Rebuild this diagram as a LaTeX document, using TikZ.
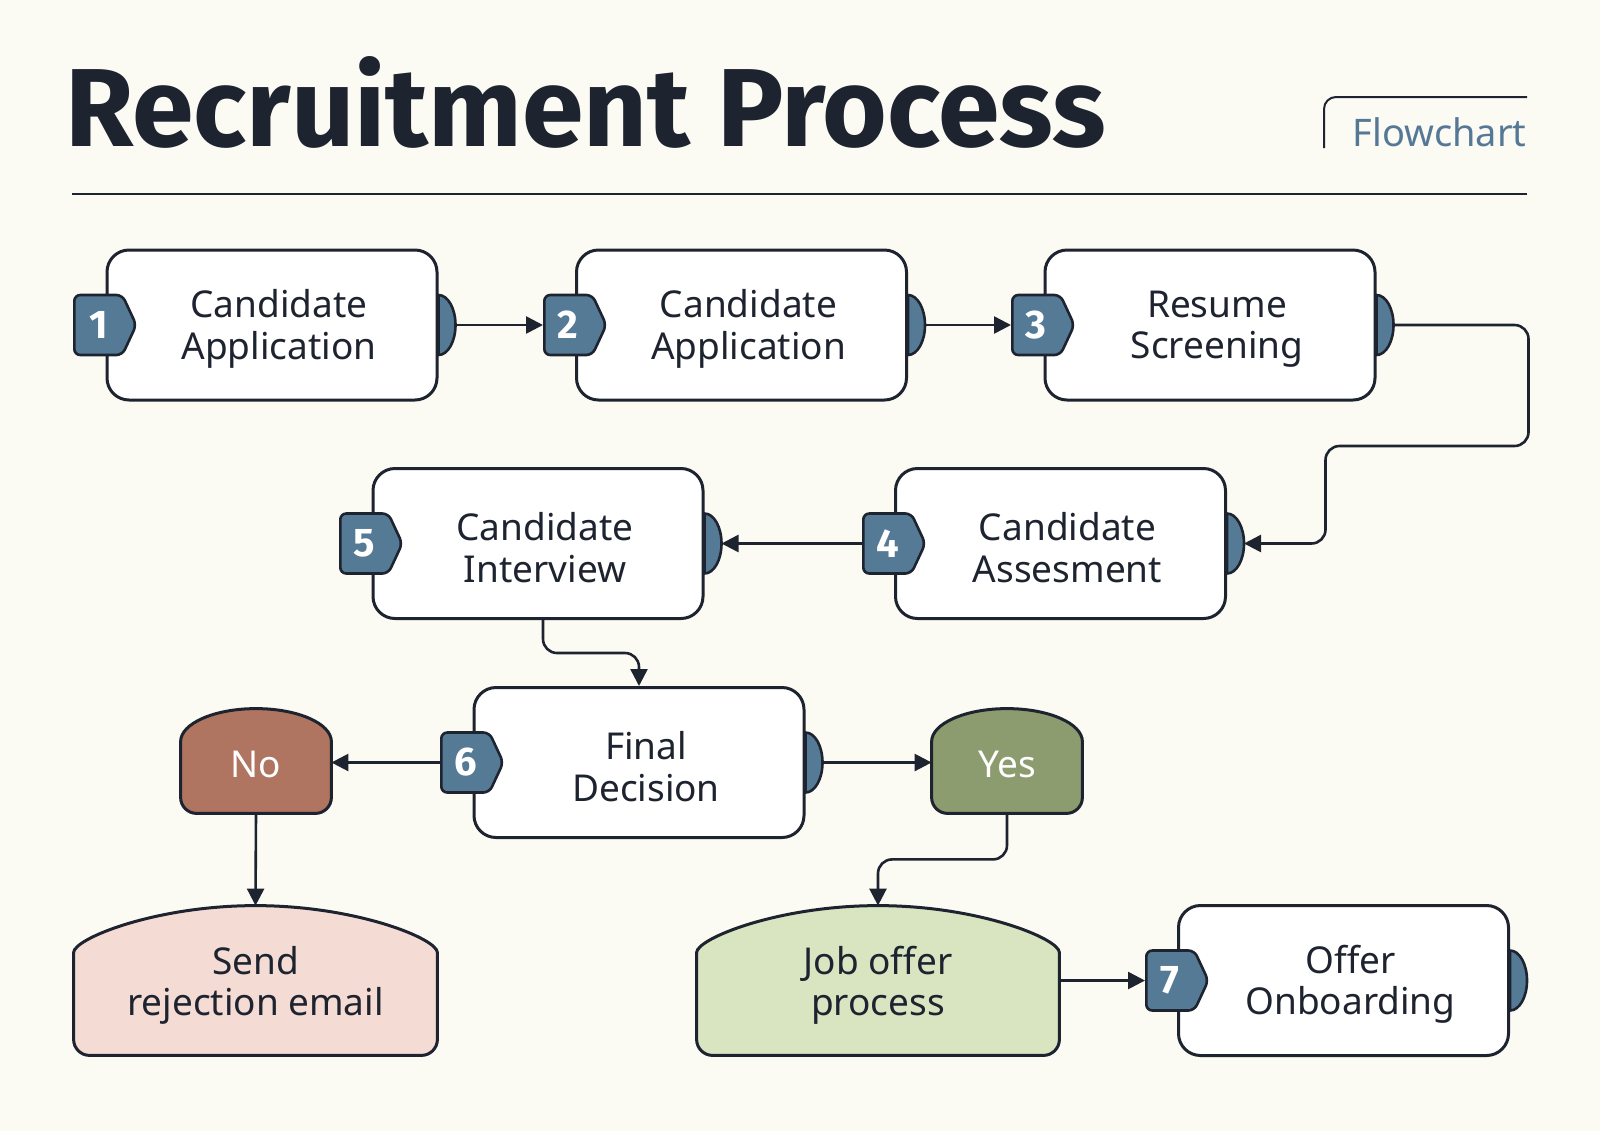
\documentclass[tikz,border=0pt]{standalone}
\usepackage{fontspec}
\setmainfont{Noto Sans}
\newfontfamily\heavyfont{Fira Sans}
\usetikzlibrary{arrows.meta,calc,shapes.symbols}
\definecolor{bgc}{HTML}{FCFBF3}
\definecolor{ink}{HTML}{1E2330}
\definecolor{stepc}{HTML}{557A96}
\definecolor{noc}{HTML}{B07560}
\definecolor{yesc}{HTML}{8D9C6E}
\definecolor{sendc}{HTML}{F4DCD5}
\definecolor{jobc}{HTML}{D9E5C1}
\definecolor{tagc}{HTML}{557896}
\pgfdeclarelayer{bglayer}
\pgfdeclarelayer{connlayer}
\pgfsetlayers{bglayer,connlayer,main}
\newcommand\mydome[6]{%
  \draw[#6] let \p1=(#1.north west), \p2=(#1.south east), \p3=(#1.north) in
  (\x1,\y1-#2) .. controls (\x1,\y1-#2+#3) and (\x3-#4,\y1) .. (\x3,\y1)
  .. controls (\x3+#4,\y1) and (\x2,\y1-#2+#3) .. (\x2,\y1-#2)
  -- (\x2,\y2+#5) arc[start angle=0,end angle=-90,radius=#5]
  -- (\x1+#5,\y2) arc[start angle=-90,end angle=-180,radius=#5] -- cycle;}
\begin{document}
\begin{tikzpicture}[x=0.5pt,y=-0.5pt,
  bodyfont/.style={font=\fontsize{18.5}{20.75}\selectfont},
  stepbox/.style={draw=ink, fill=white, line width=1.5pt, rounded corners=11pt,
    minimum width=165pt, minimum height=75pt, inner sep=0pt},
  boxtext/.style={inner sep=0pt, align=center, text=ink, bodyfont},
  badge/.style={shape=signal, signal to=east, signal pointer angle=130,
    fill=stepc, draw=ink, line width=1.3pt, rounded corners=3pt,
    minimum width=31pt, minimum height=30pt, inner sep=0pt, text=white,
    font=\heavyfont\fontsize{20}{22}\selectfont\bfseries, anchor=west},
  tabst/.style={fill=stepc, draw=ink, line width=1.3pt},
  domebox/.style={inner sep=0pt},
  domeline/.style={draw=ink, line width=1.5pt},
  conn/.style={draw=ink, line width=1.3pt, -{Triangle[length=8.5pt,width=8.5pt]}},
  ]
\useasboundingbox (0,0) rectangle (1600,1131);
\begin{pgfonlayer}{bglayer}
  \fill[bgc] (0,0) rectangle (1600,1131);
\end{pgfonlayer}

% title
\node[anchor=base west, inner sep=0pt, text=ink,
  font=\heavyfont\fontsize{55.5}{62}\selectfont\bfseries] (title) at (65,146) {Recruitment Process};
\draw[ink, line width=1.2pt] (72,194) -- (1527,194);
\draw[ink, line width=1pt, rounded corners=6pt] (1324,148) -- (1324,97) -- (1527,97);
\node[anchor=base east, inner sep=0pt, text=tagc,
  font=\fontsize{19}{22}\selectfont] (tag) at (1527,146) {Flowchart};

% boxes
\node[stepbox] (box1) at (272,325) {};
\node[stepbox] (box2) at (741.5,325) {};
\node[stepbox] (box3) at (1210,325) {};
\node[stepbox] (box5) at (538,543.5) {};
\node[stepbox] (box4) at (1060.5,543.5) {};
\node[stepbox] (box6) at (639,762.5) {};
\node[stepbox] (box7) at (1343.5,980.5) {};
\node[boxtext] (t1) at ([shift={(7,4)}]box1.center) {Candidate\\Application};
\node[boxtext] (t2) at ([shift={(7,4)}]box2.center) {Candidate\\Application};
\node[boxtext] (t3) at ([shift={(7,4)}]box3.center) {Resume\\Screening};
\node[boxtext] (t5) at ([shift={(7,4)}]box5.center) {Candidate\\Interview};
\node[boxtext] (t4) at ([shift={(7,4)}]box4.center) {Candidate\\Assesment};
\node[boxtext] (t6) at ([shift={(7,4)}]box6.center) {Final\\Decision};
\node[boxtext] (t7) at ([shift={(7,4)}]box7.center) {Offer\\Onboarding};

% tabs
\foreach \b in {box1,box2,box3,box4,box5,box6,box7}{
  \draw[tabst] (\b.east) ++(0,-30) arc[start angle=90,end angle=-90,x radius=8.5pt,y radius=15pt] -- cycle;
}

% badges
\node[badge] (n1) at (73,325) {1};
\node[badge] (n2) at (543,325) {2};
\node[badge] (n3) at (1011,325) {3};
\node[badge] (n4) at (862,543.5) {4};
\node[badge] (n5) at (339,543.5) {5};
\node[badge] (n6) at (440,762.5) {6};
\node[badge] (n7) at (1145,980.5) {7};

% dome nodes
\node[domebox, minimum width=75pt, minimum height=52pt] (no) at (256,761) {};
\node[domebox, minimum width=75pt, minimum height=52pt] (yes) at (1007,761) {};
\node[domebox, minimum width=181.5pt, minimum height=74.5pt] (send) at (255.5,980.5) {};
\node[domebox, minimum width=181pt, minimum height=74.5pt] (job) at (878,980.5) {};
\node[boxtext, text=white] (tno) at ([shift={(0,3)}]no.center) {No};
\node[boxtext, text=white] (tyes) at ([shift={(0,3)}]yes.center) {Yes};
\node[boxtext] (tsend) at ([shift={(0,5)}]send.center) {Send\\rejection email};
\node[boxtext] (tjob) at ([shift={(0,5)}]job.center) {Job offer\\process};

\begin{pgfonlayer}{connlayer}
  \draw[conn] (box1.east) -- (n2.west);
  \draw[conn] (box2.east) -- (n3.west);
  \draw[conn, rounded corners=7pt] (box3.east) -- ++(152,0) -- ++(0,121) -- ++(-203,0) |- ([xshift=8.5pt]box4.east);
  \draw[conn] (n4.west) -- ([xshift=8.5pt]box5.east);
  \draw[conn, rounded corners=7pt] ([xshift=2.5pt]box5.south) -- ++(0,33) -| (box6.north);
  \draw[conn] (n6.west) -- (n6.west -| no.east);
  \draw[conn] (box6.east) -- (box6.east -| yes.west);
  \draw[conn] (no.south) -- (send.north);
  \draw[conn, rounded corners=7pt] (yes.south) -- ++(0,46) -| (job.north);
  \draw[conn] (job.east |- n7.west) -- (n7.west);
  \mydome{no}{16.5pt}{9pt}{21pt}{8pt}{domeline, fill=noc}
  \mydome{yes}{16.5pt}{9pt}{21pt}{8pt}{domeline, fill=yesc}
  \mydome{send}{23.5pt}{7pt}{50pt}{8pt}{domeline, fill=sendc}
  \mydome{job}{23.5pt}{7pt}{50pt}{8pt}{domeline, fill=jobc}
\end{pgfonlayer}
\end{tikzpicture}
\end{document}
